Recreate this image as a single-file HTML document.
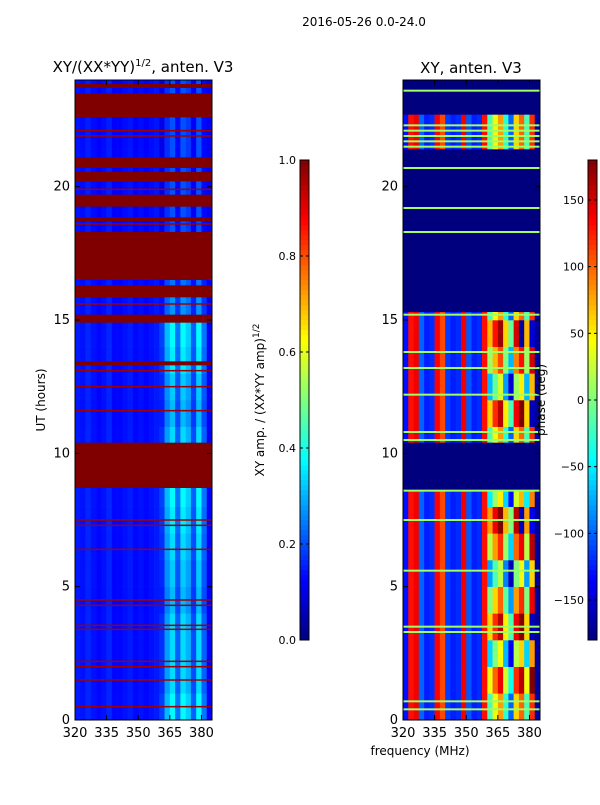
<!DOCTYPE html>
<html><head><meta charset="utf-8"><style>
body{margin:0;background:#fff;font-family:"Liberation Sans","DejaVu Sans",sans-serif}
svg text{font-family:"DejaVu Sans","Liberation Sans",sans-serif;font-size:12px;fill:#000}
</style></head><body>
<svg id="fig" width="600" height="800" xmlns="http://www.w3.org/2000/svg">
<text x="364" y="26" text-anchor="middle" font-size="13">2016-05-26 0.0-24.0</text>
<text x="143" y="72" text-anchor="middle" style="font-size:15px">XY/(XX*YY)<tspan dy="-6" style="font-size:10px">1/2</tspan><tspan dy="6">, anten. V3</tspan></text>
<text x="471" y="73" text-anchor="middle" style="font-size:15px">XY, anten. V3</text>
<text transform="translate(45,400) rotate(-90)" text-anchor="middle">UT (hours)</text>
<text transform="translate(264,400) rotate(-90)" text-anchor="middle">XY amp. / (XX*YY amp)<tspan dy="-5" style="font-size:9px">1/2</tspan></text>
<text x="420" y="755" text-anchor="middle">frequency (MHz)</text>
<g id="left"></g>
<g id="right"></g>
<g id="cb"></g>
<text transform="translate(545,400) rotate(-90)" text-anchor="middle">phase (deg)</text>
</svg>
<script>
// ---- data ----
const hours=[0,1,2,3,4,5,6,7,8,9,10,11,12,13,14,15,16,17,18,19,20,21,22,23];
const freqBins=[320,322.5,325,327.5,330,332.5,335,337.5,340,342.5,345,347.5,350,352.5,355,357.5,360,362.5,365,367.5,370,372.5,375,377.5,380,382.5];
const ampProfile=[0.15,0.14,0.16,0.14,0.13,0.14,0.16,0.13,0.13,0.14,0.15,0.13,0.14,0.13,0.14,0.15,0.17,0.28,0.34,0.22,0.34,0.3,0.2,0.34,0.22,0.12];
const ampRowGain=[1.1,1.0,1.0,1.0,0.9,0.95,1.0,1.05,1.1,1.0,1.0,0.9,0.95,1.05,1.1,0.8,0.7,0.6,0.6,0.6,0.6,0.6,0.6,0.6];
const ampFlagged=[[8.7,10.4],[14.9,15.2],[15.85,16.3],[16.5,18.3],[18.7,18.85],[19.25,19.7],[20.2,20.55],[20.7,21.1],[22.6,23.5],[13.3,13.45],[23.7,23.85]];
const ampRedLines=[0.5,1.5,2.0,2.2,3.4,3.55,4.3,4.5,6.4,7.3,7.5,11.6,12.5,13.1,21.9,22.1,18.6,19.9,15.6];
const phaseProfile=[-130,130,140,-100,-125,-120,135,110,-115,-125,-120,140,-105,-125,-120,130,-20,40,80,-30,-100,60,100,-20,120,-170];
const phaseRowShift=[0,60,-40,80,20,-60,40,100,-30,0,0,80,-50,30,90,0,0,0,0,0,0,0,0,0];
const phaseFlagged=[[8.6,10.4],[15.3,21.4],[22.7,24]];
const phaseLines=[0.4,0.7,3.3,3.5,5.6,7.5,8.6,10.5,10.8,12.2,13.2,13.8,15.2,18.3,19.2,20.7,21.5,21.7,21.9,22.1,22.3,23.6];
const ampTicks=[0,0.2,0.4,0.6,0.8,1.0];
const phaseTicks=[-150,-100,-50,0,50,100,150];
const xTicks=[320,335,350,365,380];
const yTicks=[0,5,10,15,20];
// ---- helpers ----
const NS="http://www.w3.org/2000/svg";
function jet(v){v=Math.max(0,Math.min(1,v));
 const r=Math.max(0,Math.min(1,1.5-Math.abs(4*v-3))),g=Math.max(0,Math.min(1,1.5-Math.abs(4*v-2))),b=Math.max(0,Math.min(1,1.5-Math.abs(4*v-1)));
 return `rgb(${Math.round(r*255)},${Math.round(g*255)},${Math.round(b*255)})`;}
function mk(tag,attrs,parent){const e=document.createElementNS(NS,tag);for(const k in attrs)e.setAttribute(k,attrs[k]);parent.appendChild(e);return e;}
const Y=h=>720-h*(640/24);
function panel(gid,x0,valueFn,flags,flagColor,lines,lineColor,lineW){
 const g=document.getElementById(gid);
 const X=f=>x0+(f-320)*(137/65);
 hours.forEach((h,i)=>{freqBins.forEach((f,j)=>{
  const r=mk('rect',{x:X(f),y:Y(h+1),width:X(f+2.5)-X(f)+0.3,height:Y(h)-Y(h+1)+0.3,fill:valueFn(i,j)},g);
  
  
 });});
 flags.forEach(fl=>{const r=mk('rect',{x:x0,y:Y(fl[1]),width:137,height:Y(fl[0])-Y(fl[1]),fill:flagColor},g);
  
  });
 lines.forEach(l=>{const r=mk('rect',{x:x0,y:Y(l)-lineW/2,width:137,height:lineW,fill:lineColor},g);
  
  });
 const fr=mk('rect',{x:x0,y:80,width:137,height:640,fill:'none',stroke:'#000','stroke-width':1},g);
 
 
 xTicks.forEach(t=>{mk('line',{x1:X(t),x2:X(t),y1:720,y2:715,stroke:'#000'},g);mk('line',{x1:X(t),x2:X(t),y1:80,y2:85,stroke:'#000'},g);
  const tx=mk('text',{x:X(t),y:737,'text-anchor':'middle'},g);tx.textContent=t;tx.style.fontSize='13px';
  
  });
 yTicks.forEach(t=>{mk('line',{x1:x0,x2:x0+5,y1:Y(t),y2:Y(t),stroke:'#000'},g);mk('line',{x1:x0+137,x2:x0+132,y1:Y(t),y2:Y(t),stroke:'#000'},g);
  const tx=mk('text',{x:x0-5,y:Y(t)+4,'text-anchor':'end'},g);tx.textContent=t;tx.style.fontSize='13px';
  
  });
}
panel('left',75,(i,j)=>{let v=ampProfile[j];if(j>=16&&j<=24)v=v*ampRowGain[i];else v=v*(0.9+0.1*ampRowGain[i]);return jet(v);},
 ampFlagged,'#800000',ampRedLines,'#a00000',1.5);
panel('right',403,(i,j)=>{let p=phaseProfile[j];if(j>=16&&j<=24){p=p+phaseRowShift[i];while(p>180)p-=360;while(p<-180)p+=360;}return jet((p+180)/360);},
 phaseFlagged,'#00007f',phaseLines,'#a0ff60',2);
// colorbars
function colorbar(x,vmin,vmax,ticks,fmt){
 const g=document.getElementById('cb');
 for(let k=0;k<96;k++){const r=mk('rect',{x:x,y:640-(k+1)*5,width:9,height:5.3,fill:jet((k+0.5)/96)},g);
  
  }
 mk('rect',{x:x,y:160,width:9,height:480,fill:'none',stroke:'#000'},g);
 ticks.forEach(t=>{const y=640-(t-vmin)/(vmax-vmin)*480;
  mk('line',{x1:x,x2:x+3,y1:y,y2:y,stroke:'#000'},g);mk('line',{x1:x+9,x2:x+6,y1:y,y2:y,stroke:'#000'},g);
  const tx=mk('text',{x:x-4,y:y+4,'text-anchor':'end','font-size':'11'},g);tx.textContent=fmt(t);tx.style.fontSize='11px';
  
  });
}
colorbar(300,0,1,ampTicks,t=>t.toFixed(1));
colorbar(588,-180,180,phaseTicks,t=>t<0?'\u2212'+(-t):String(t));
</script>
</body></html>
